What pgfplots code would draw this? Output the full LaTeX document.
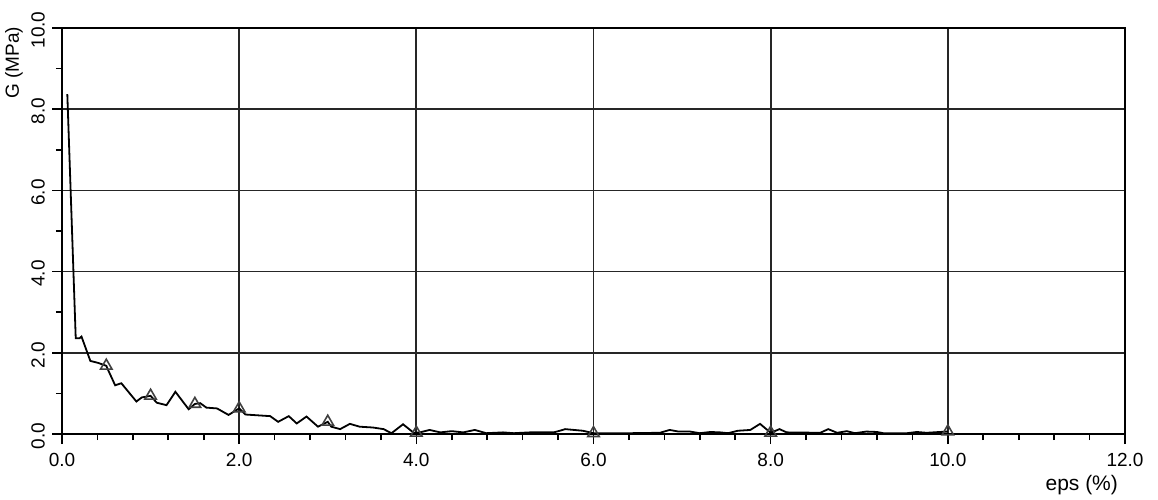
\documentclass[border=0pt]{standalone}
\usepackage{fontspec}
\setmainfont{Liberation Sans}
\usepackage{pgfplots}
\pgfplotsset{compat=1.18}
\begin{document}
\begin{tikzpicture}
\path[use as bounding box] (-31pt,-32.5pt) rectangle (548pt,217pt);
\begin{axis}[
  at={(0,0)}, anchor=south west,
  scale only axis,
  width=531.5pt, height=203pt,
  xmin=0, xmax=12, ymin=0, ymax=10,
  xtick={0,2,...,12}, ytick={0,2,...,10},
  minor x tick num=4, minor y tick num=1,
  tick align=outside,
  xtick pos=bottom, ytick pos=left,
  major tick length=5pt, minor tick length=3pt,
  tick style={black, line width=0.8pt},
  grid=major,
  major grid style={black!85, line width=0.85pt},
  axis line style={black, line width=1pt},
  /pgf/number format/.cd, fixed, fixed zerofill, precision=1, assume math mode=true,
  /pgfplots/.cd,
  ticklabel style={font=\fontsize{9.5}{11}\selectfont},
  xticklabel style={yshift=-1pt},
  yticklabel style={rotate=90, anchor=south, xshift=-1pt},
  clip=false,
]
\addplot[black, line width=0.9pt] coordinates {
(0.06,8.37) (0.155,2.36) (0.2,2.36) (0.22,2.40) (0.32,1.80) (0.41,1.75)
(0.5,1.68) (0.52,1.58) (0.6,1.20) (0.67,1.25) (0.84,0.80) (0.9,0.90)
(1.0,0.94) (1.07,0.77) (1.18,0.71) (1.28,1.04) (1.43,0.61) (1.5,0.74)
(1.56,0.76) (1.63,0.65) (1.75,0.63) (1.88,0.47) (2.0,0.63) (2.07,0.48)
(2.35,0.44) (2.44,0.30) (2.56,0.44) (2.65,0.26) (2.76,0.43) (2.89,0.18)
(3.0,0.30) (3.04,0.18) (3.14,0.12) (3.25,0.25) (3.36,0.18) (3.51,0.16)
(3.63,0.12) (3.72,0.02) (3.85,0.24) (3.97,0.03) (4.04,0.04) (4.15,0.10)
(4.27,0.04) (4.40,0.07) (4.53,0.04) (4.66,0.10) (4.79,0.02) (4.98,0.04)
(5.10,0.02) (5.28,0.04) (5.55,0.04) (5.62,0.08) (5.68,0.12) (5.88,0.08)
(6.0,0.02) (6.41,0.02) (6.75,0.03) (6.86,0.10) (6.96,0.06) (7.09,0.06)
(7.20,0.02) (7.32,0.05) (7.43,0.04) (7.52,0.02) (7.63,0.08) (7.77,0.10)
(7.88,0.25) (8.0,0.03) (8.1,0.12) (8.18,0.04) (8.56,0.03) (8.65,0.12)
(8.75,0.03) (8.86,0.07) (8.95,0.02) (9.08,0.06) (9.2,0.05) (9.27,0.02)
(9.54,0.02) (9.65,0.05) (9.76,0.03) (9.91,0.05) (10.0,0.06)
};
\addplot[only marks, mark=triangle, mark size=3.3pt, black!75, mark options={line width=0.8pt}] coordinates {
(0.5,1.68) (1.0,0.94) (1.5,0.74) (2.0,0.63) (3.0,0.30) (4.0,0.03) (6.0,0.02) (8.0,0.03) (10.0,0.06)
};
\node[font=\fontsize{9.5}{11}\selectfont, rotate=90, anchor=center] at ([xshift=-24pt]axis cs:0,9.14) {G (MPa)};
\node[font=\fontsize{10.5}{12}\selectfont, anchor=north east] at ([yshift=-17pt]rel axis cs:1,0) {eps (\%)};
\end{axis}
\end{tikzpicture}
\end{document}
